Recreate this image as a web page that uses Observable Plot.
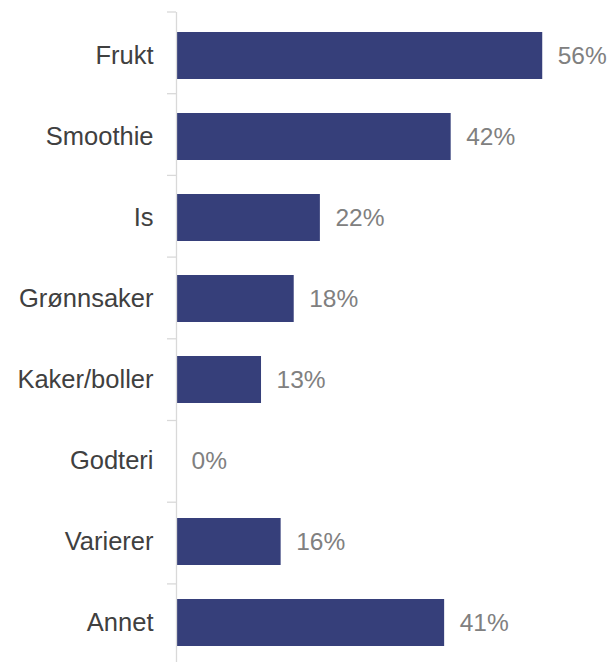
<!DOCTYPE html>
<html>
<head>
<meta charset="utf-8">
<script src="https://cdn.jsdelivr.net/npm/d3@7"></script>
<script src="https://cdn.jsdelivr.net/npm/@observablehq/plot@0.6"></script>
<style>
  html, body { margin: 0; padding: 0; background: #fff; overflow: hidden; }
  #chart svg { display: block; }
</style>
</head>
<body>
<div id="chart"></div>
<script>
const categories = ["Frukt", "Smoothie", "Is", "Grønnsaker", "Kaker/boller", "Godteri", "Varierer", "Annet"];
const values = [0.56, 0.42, 0.22, 0.18, 0.13, 0.00, 0.16, 0.41];
const valueLabels = ["56%", "42%", "22%", "18%", "13%", "0%", "16%", "41%"];

const data = categories.map((c, i) => ({category: c, value: values[i], label: valueLabels[i]}));

const W = 610, H = 662;
const yTop = 12, yBottom = 665.6;
const pInner = 0.42;

const chart = Plot.plot({
  width: W,
  height: H,
  marginLeft: 176,
  marginRight: 41.6,
  marginTop: yTop,
  marginBottom: 0,
  style: {fontFamily: "'Liberation Sans', Arial, sans-serif", background: "#fff"},
  x: {domain: [0, 0.6], axis: null},
  y: {domain: categories, range: [yTop, yBottom], paddingInner: pInner, paddingOuter: pInner / 2, align: 0.5, label: null},
  marks: [
    Plot.barX(data, {y: "category", x: "value", fill: "#363F7A"}),
    Plot.ruleX([0], {stroke: "#d9d9d9", strokeWidth: 1.3}),
    Plot.text(data, {y: "category", x: "value", text: "label", textAnchor: "start", dx: 15, fill: "#808080", fontSize: 24.5}),
    Plot.axisY({tickSize: 0, tickPadding: 23, fontSize: 25.5, color: "#404040", label: null})
  ]
});

// boundary tick marks between categories, from the y scale
const ys = chart.scale("y");
const step = (ys.range[1] - ys.range[0]) / categories.length;
const svg = d3.select(chart);
const x0 = chart.scale("x").range[0];
for (let k = 0; k <= categories.length; k++) {
  const yy = ys.range[0] + k * step;
  svg.append("line")
    .attr("x1", x0 - 9).attr("x2", x0)
    .attr("y1", yy).attr("y2", yy)
    .attr("stroke", "#d9d9d9").attr("stroke-width", 1.3);
}
document.getElementById("chart").appendChild(chart);
</script>
</body>
</html>
